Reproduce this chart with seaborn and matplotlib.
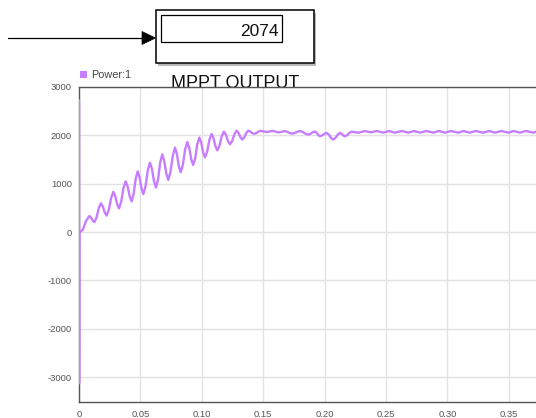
import matplotlib
matplotlib.use("Agg")
import matplotlib.pyplot as plt
import pandas as pd
import seaborn as sns
from matplotlib.patches import Rectangle, Polygon, Patch

# ---------------- data ----------------
# start-up spike and rising oscillation: (time s, power W)
rise = [
    (0.0, 2730), (0.0001, -3130), (0.0003, 0), (0.003, 40), (0.0058, 230),
    (0.0084, 331), (0.0098, 300), (0.0111, 236), (0.0125, 205),
    (0.0143, 302), (0.0161, 497), (0.0179, 594), (0.0194, 530), (0.021, 403),
    (0.0225, 340), (0.0243, 462), (0.0262, 707), (0.028, 830), (0.0295, 745),
    (0.0311, 575), (0.0326, 490), (0.0344, 630), (0.0362, 908), (0.038, 1048),
    (0.0396, 945), (0.0413, 738), (0.0429, 635), (0.0445, 790), (0.0462, 1100),
    (0.0478, 1255), (0.0493, 1138), (0.0509, 902), (0.0524, 785), (0.0542, 948),
    (0.056, 1272), (0.0578, 1435), (0.0594, 1306), (0.0611, 1049), (0.0627, 920),
    (0.0644, 1091), (0.0661, 1434), (0.0678, 1605), (0.0694, 1473), (0.0711, 1209),
    (0.0727, 1077), (0.0745, 1244), (0.0764, 1579), (0.0782, 1746), (0.0797, 1618),
    (0.0813, 1363), (0.0828, 1235), (0.0846, 1392), (0.0864, 1705), (0.0882, 1862),
    (0.0898, 1743), (0.0914, 1506), (0.093, 1387), (0.0947, 1529), (0.0963, 1813),
    (0.098, 1955), (0.0995, 1852), (0.1011, 1645), (0.1026, 1542), (0.1044, 1664),
    (0.1062, 1908), (0.108, 2030), (0.1095, 1945), (0.1111, 1775), (0.1126, 1690),
    (0.1144, 1787), (0.1162, 1980), (0.118, 2077), (0.1197, 2012), (0.1213, 1880),
    (0.123, 1815), (0.1248, 1885), (0.1266, 2027), (0.1284, 2097), (0.1299, 2051),
    (0.1315, 1958), (0.133, 1912), (0.1346, 1958), (0.1363, 2051), (0.1379, 2097),
    (0.1394, 2080), (0.141, 2047), (0.1425, 2030), (0.1443, 2045), (0.146, 2076),
]
# settling wobble
settle = [
    (0.1478, 2092), (0.153, 2070), (0.158, 2092), (0.1625, 2060), (0.1675, 2088),
    (0.1695, 2075), (0.1715, 2048), (0.1735, 2035), (0.1757, 2048), (0.1778, 2075),
    (0.18, 2088), (0.1822, 2070), (0.1845, 2033), (0.1867, 2015), (0.1885, 2031),
    (0.1904, 2064), (0.1922, 2080), (0.1935, 2055), (0.1949, 2005), (0.1962, 1980),
    (0.198, 1998), (0.1999, 2033), (0.2017, 2050), (0.2035, 2015), (0.2052, 1946),
    (0.207, 1911), (0.2088, 1946), (0.2107, 2015), (0.2125, 2050), (0.2139, 2033),
    (0.2152, 1998), (0.2166, 1980), (0.2184, 2004), (0.2202, 2051), (0.222, 2075),
    (0.2275, 2055), (0.233, 2088), (0.2375, 2062), (0.2425, 2090),
]
# steady-state ripple
steady = [
    (0.2478, 2055), (0.2525, 2090), (0.2573, 2055), (0.263, 2090), (0.2682, 2055),
    (0.273, 2090), (0.2777, 2055), (0.283, 2090), (0.2885, 2055), (0.293, 2090),
    (0.298, 2055), (0.303, 2090), (0.3089, 2055), (0.313, 2090), (0.3184, 2055),
    (0.323, 2090), (0.3292, 2055), (0.334, 2090), (0.3388, 2055), (0.344, 2090),
    (0.3496, 2055), (0.354, 2090), (0.3591, 2055), (0.364, 2090), (0.370, 2055),
    (0.374, 2090),
]

x_ticks = [0, 0.05, 0.10, 0.15, 0.20, 0.25, 0.30, 0.35]
x_tick_labels = ["0", "0.05", "0.10", "0.15", "0.20", "0.25", "0.30", "0.35"]
y_ticks = [-3000, -2000, -1000, 0, 1000, 2000, 3000]
y_tick_labels = ["-3000", "-2000", "-1000", "0", "1000", "2000", "3000"]
series_name = "Power:1"
title = "MPPT OUTPUT"
display_value = "2074"

# ---------------- styling ----------------
LINE = "#c77dff"
W, H = 536, 418

sns.set_theme(style="white")
plt.rcParams["font.family"] = ["Liberation Sans", "DejaVu Sans"]

fig = plt.figure(figsize=(W / 100, H / 100), dpi=100)
fig.patch.set_facecolor("white")

ax = fig.add_axes([79 / W, (H - 402) / H, (W - 79) / W, (402 - 87) / H])

df = pd.DataFrame(rise + settle + steady, columns=["t", "P"])
sns.lineplot(data=df, x="t", y="P", ax=ax, color=LINE, linewidth=1.7,
             sort=False, estimator=None, legend=False, zorder=3)
for ln in ax.lines:
    ln.set_solid_joinstyle("round")
    ln.set_solid_capstyle("round")

ax.set_xlim(0, 0.3722)
ax.set_ylim(-3517, 3000)
ax.set_xticks(x_ticks)
ax.set_xticklabels(x_tick_labels)
ax.set_yticks(y_ticks)
ax.set_yticklabels(y_tick_labels)
ax.set_xlabel("")
ax.set_ylabel("")
ax.grid(True, color="#e2e2e2", linewidth=1.0)
ax.set_axisbelow(True)
for s in ["top", "left", "bottom"]:
    ax.spines[s].set_color("#555555")
    ax.spines[s].set_linewidth(1.0)
ax.spines["right"].set_visible(False)
ax.tick_params(axis="both", length=3, width=0.8, color="#aaaaaa",
               labelsize=6.8, labelcolor="#555555", pad=2)
ax.tick_params(axis="x", pad=3)

ax.legend(handles=[Patch(facecolor=LINE, edgecolor="none", label=series_name)],
          loc="lower left", bbox_to_anchor=(80 / W, 1 - 80 / H),
          bbox_transform=fig.transFigure, frameon=False,
          handlelength=0.65, handleheight=0.65, handletextpad=0.4,
          borderpad=0, borderaxespad=0, fontsize=7.8, labelcolor="#444444")

# title, partly hidden behind the plot area
fig.text(235 / W, 1 - 88.5 / H, title, ha="center", va="baseline",
         fontsize=13, color="#111111", zorder=-1)

# display block + arrow (overlay in pixel coordinates)
ov = fig.add_axes([0, 0, 1, 1], zorder=5)
ov.set_xlim(0, W)
ov.set_ylim(H, 0)
ov.axis("off")
ov.patch.set_alpha(0)
ov.plot([8, 143], [38, 38], color="black", linewidth=0.9)
ov.add_patch(Polygon([(142, 31.5), (155.5, 38), (142, 44.5)], closed=True,
                     facecolor="black", edgecolor="black", linewidth=0.5))
ov.add_patch(Rectangle((158, 12.5), 158, 53, facecolor="#9c9c9c",
                       edgecolor="none", alpha=0.7))
ov.add_patch(Rectangle((155.5, 10), 158, 53, facecolor="white",
                       edgecolor="black", linewidth=1.1))
ov.add_patch(Rectangle((161, 15), 120.7, 27.3, facecolor="white",
                       edgecolor="black", linewidth=0.9))
ov.text(278.5, 35.7, display_value, ha="right", va="baseline",
        fontsize=12.5, color="#111111")

fig.savefig("out.png", dpi=100, facecolor="white")
